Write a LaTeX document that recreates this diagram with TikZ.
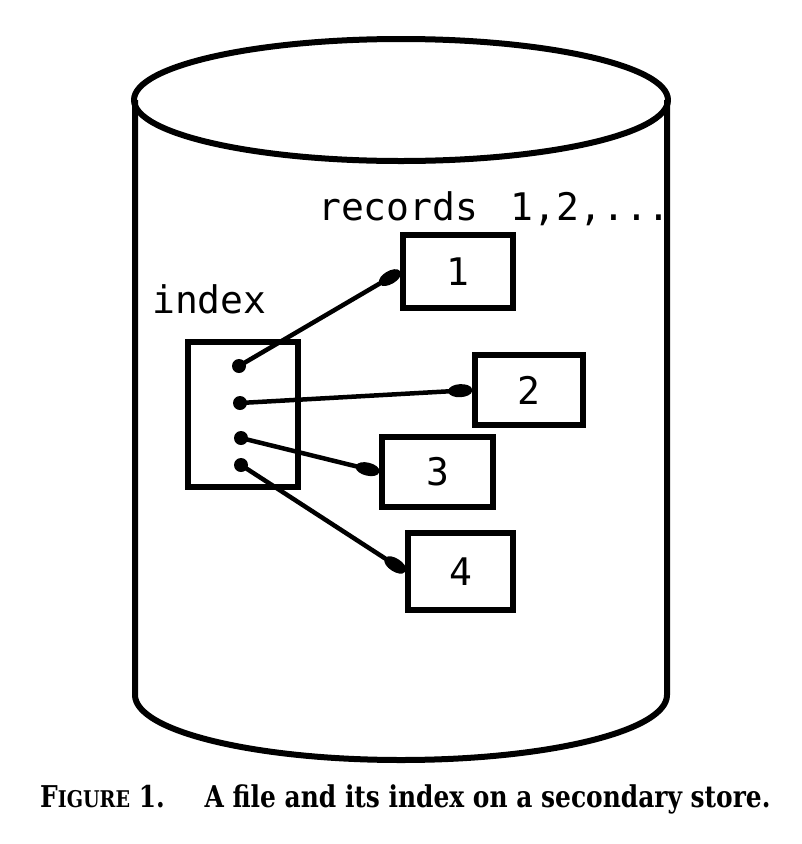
\documentclass[tikz,border=0pt]{standalone}
\usepackage{fontspec}
\setmonofont{DejaVu Sans Mono}
\newfontfamily\capfont{DejaVu Serif}
\usetikzlibrary{arrows.meta}
\begin{document}
\begin{tikzpicture}[x=1pt,y=-1pt,
  cyl/.style={line width=6pt, line join=round},
  rec/.style={draw, line width=5.5pt, inner sep=0pt, font=\ttfamily\fontsize{38}{40}\selectfont},
  lbl/.style={inner sep=0pt, font=\ttfamily\fontsize{38}{40}\selectfont},
  dot/.style={circle, fill, inner sep=0pt, minimum size=14pt},
  ptr/.style={line width=4.5pt, -{Ellipse[length=24pt,width=13pt]}}]
\useasboundingbox[fill=white] (0,0) rectangle (802,844);
% cylinder
\draw[cyl] (401,100) ellipse [x radius=267pt, y radius=61pt];
\draw[cyl] (135,100) -- (135,695) arc[start angle=180, end angle=360, x radius=266pt, y radius=65pt] -- (667,100);
% labels
\node[lbl, anchor=base west] (rl) at (318,220) {records\hspace{0.85em}1,2,...};
\node[lbl, anchor=base west] (il) at (152,313) {index};
% index box
\node[rec, minimum width=110pt, minimum height=145pt] (ix) at (243,414.5) {};
\node[dot] (d1) at (239,366) {};
\node[dot] (d2) at (240,403) {};
\node[dot] (d3) at (241,438) {};
\node[dot] (d4) at (241,465) {};
% record boxes
\node[rec, minimum width=110pt, minimum height=73pt] (b1) at (458,271.5) {1};
\node[rec, minimum width=108pt, minimum height=70pt] (b2) at (529,390) {2};
\node[rec, minimum width=111pt, minimum height=70pt] (b3) at (437.5,472) {3};
\node[rec, minimum width=105pt, minimum height=77pt] (b4) at (460.5,571.5) {4};
% pointers
\draw[ptr] (d1.center) -- (b1.west);
\draw[ptr] (d2.center) -- (b2.west);
\draw[ptr] (d3.center) -- (b3.west);
\draw[ptr] (d4.center) -- (b4.west);
% caption
\node[anchor=base west, inner sep=0pt, xscale=0.83, transform shape, font=\capfont\bfseries\fontsize{30}{32}\selectfont] (cap) at (40,807) {F{\fontsize{23}{24}\selectfont IGURE} 1.\hspace{1.6em}A file and its index on a secondary store.};
\end{tikzpicture}
\end{document}
